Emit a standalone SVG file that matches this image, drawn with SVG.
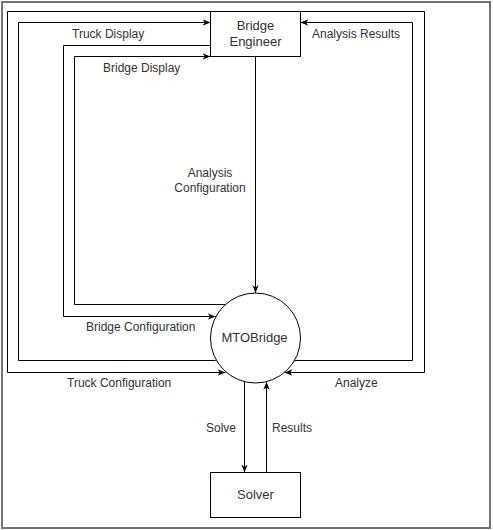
<svg xmlns="http://www.w3.org/2000/svg" width="493" height="530" viewBox="0 0 493 530">
<style>
.frame{fill:#fff;stroke:#737373;stroke-width:2}
.node{fill:#fff;stroke:#000;stroke-width:1}
.edge{fill:none;stroke:#000;stroke-width:1}
.lbl{font-family:"Liberation Sans",Arial,sans-serif;font-size:12px;fill:#333}
.nlbl{font-family:"Liberation Sans",Arial,sans-serif;font-size:13px;fill:#333;text-anchor:middle}
.mid{text-anchor:middle}
</style>
<defs>
<marker id="arr" viewBox="0 0 10 10" refX="10" refY="5" markerWidth="8" markerHeight="8" markerUnits="userSpaceOnUse" orient="auto">
<path d="M0,1 L10,5 L0,9 L3,5 Z" fill="#000"/>
</marker>
</defs>
<rect class="frame" x="2" y="2" width="488" height="526"/>
<g id="connectors">
<g id="truck-configuration">
<path class="edge" d="M210.5,11.5 H7.5 V372.5 H225.5" marker-end="url(#arr)"/>
<text class="lbl" x="67" y="387">Truck Configuration</text>
</g>
<g id="analyze">
<path class="edge" d="M300.5,11.5 H424.5 V372.5 H284.5" marker-end="url(#arr)"/>
<text class="lbl" x="335" y="387">Analyze</text>
</g>
<g id="truck-display">
<path class="edge" d="M215.7,360.5 H18.5 V22.5 H210.5" marker-end="url(#arr)"/>
<text class="lbl" x="72" y="38">Truck Display</text>
</g>
<g id="analysis-results">
<path class="edge" d="M294.3,360.5 H412.5 V22.5 H300.5" marker-end="url(#arr)"/>
<text class="lbl" x="312" y="38">Analysis Results</text>
</g>
<g id="bridge-configuration">
<path class="edge" d="M210.5,45.5 H63.5 V316.5 H215.7" marker-end="url(#arr)"/>
<text class="lbl" x="86" y="331">Bridge Configuration</text>
</g>
<g id="bridge-display">
<path class="edge" d="M225.5,304.5 H74.5 V56.5 H210.5" marker-end="url(#arr)"/>
<text class="lbl" x="103" y="72">Bridge Display</text>
</g>
<g id="analysis-configuration">
<path class="edge" d="M255.5,56.5 V293" marker-end="url(#arr)"/>
<text class="lbl mid" x="210" y="177">Analysis</text>
<text class="lbl mid" x="210" y="192">Configuration</text>
</g>
<g id="solve">
<path class="edge" d="M244.5,381.6 V472.5" marker-end="url(#arr)"/>
<text class="lbl" x="206" y="432">Solve</text>
</g>
<g id="results">
<path class="edge" d="M266.5,472.5 V381.8" marker-end="url(#arr)"/>
<text class="lbl" x="272" y="432">Results</text>
</g>
</g>
<g id="bridge-engineer">
<rect class="node" x="210.5" y="11.5" width="90" height="45"/>
<text class="nlbl" x="255.5" y="29.5">Bridge</text>
<text class="nlbl" x="255.5" y="46">Engineer</text>
</g>
<g id="mtobridge">
<circle class="node" cx="255.5" cy="338" r="45"/>
<text class="nlbl" x="254.5" y="342">MTOBridge</text>
</g>
<g id="solver">
<rect class="node" x="210.5" y="472.5" width="90" height="45"/>
<text class="nlbl" x="255.5" y="499">Solver</text>
</g>
</svg>
